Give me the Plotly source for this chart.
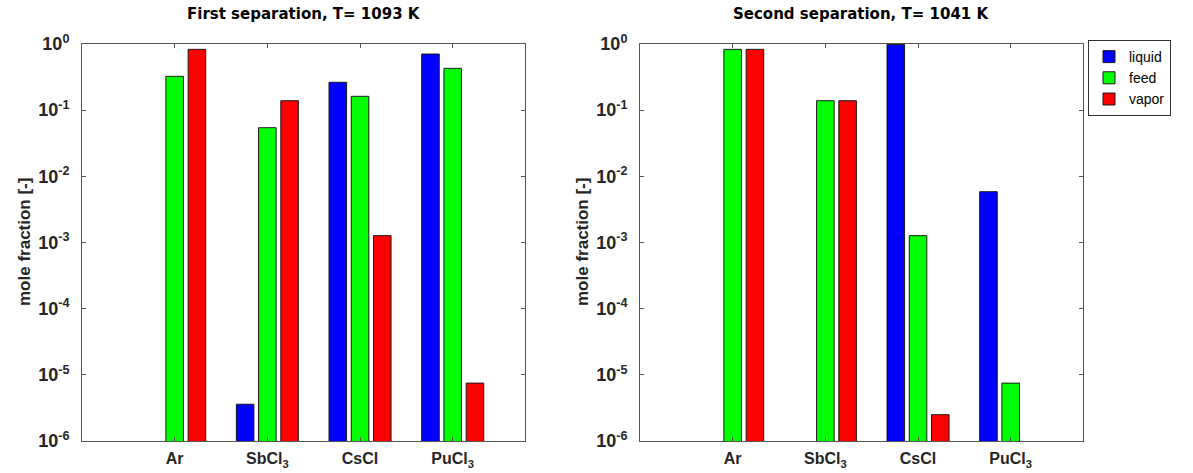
import plotly.graph_objects as go
from plotly.subplots import make_subplots

# Species on the x axis (category positions 1..4)
species = ["Ar", "SbCl<sub>3</sub>", "CsCl", "PuCl<sub>3</sub>"]
xpos = [1, 2, 3, 4]

# Mole fractions, first separation (T = 1093 K); None = no bar (zero)
first_liquid = [None, 3.6e-6, 0.264, 0.706]
first_feed = [0.325, 0.0543, 0.162, 0.429]
first_vapor = [0.83, 0.139, 1.27e-3, 7.5e-6]

# Mole fractions, second separation (T = 1041 K)
second_liquid = [None, None, 0.985, 5.86e-3]
second_feed = [0.83, 0.139, 1.27e-3, 7.5e-6]
second_vapor = [0.83, 0.139, 2.5e-6, None]

titles = ["First separation, T= 1093 K", "Second separation, T= 1041 K"]
series_names = ["liquid", "feed", "vapor"]
colors = ["#0000FF", "#00FF00", "#FF0000"]

ytick_vals = [1e-6, 1e-5, 1e-4, 1e-3, 1e-2, 1e-1, 1e0]
ytick_text = ["<b>10<sup>%d</sup></b>" % e for e in range(-6, 1)]

W, H = 1193, 473
fig = make_subplots(rows=1, cols=2)

panels = [
    (first_liquid, first_feed, first_vapor),
    (second_liquid, second_feed, second_vapor),
]
for col, data in enumerate(panels, start=1):
    for name, vals, color in zip(series_names, data, colors):
        fig.add_trace(
            go.Bar(
                x=xpos, y=vals, name=name,
                marker=dict(color=color, line=dict(color="#1a1a1a", width=1)),
                showlegend=(col == 2),
                legendgroup=name,
            ),
            row=1, col=col,
        )

# plot areas in pixels
x_domains = [(82, 525), (640, 1083)]
y_top, y_bot = 44, 441
axis_line = "#555555"

for i, (x0, x1) in enumerate(x_domains, start=1):
    fig.update_xaxes(
        domain=[x0 / W, x1 / W], range=[0, 4.78],
        tickvals=xpos, ticktext=["<b>%s</b>" % s for s in species],
        ticks="inside", ticklen=4, tickcolor=axis_line,
        showline=True, linecolor=axis_line, linewidth=1, mirror="ticks",
        showgrid=False, zeroline=False, automargin=False,
        tickfont=dict(family="Liberation Sans", size=16, color="#262626"),
        ticklabelstandoff=3,
        row=1, col=i,
    )
    fig.update_yaxes(
        domain=[1 - y_bot / H, 1 - y_top / H], type="log", range=[-6, 0],
        tickvals=ytick_vals, ticktext=ytick_text,
        ticks="inside", ticklen=4, tickcolor=axis_line,
        showline=True, linecolor=axis_line, linewidth=1, mirror="ticks",
        showgrid=False, zeroline=False, automargin=False,
        tickfont=dict(family="Liberation Sans", size=18, color="#262626"),
        ticklabelstandoff=8,
        row=1, col=i,
    )
    # panel title
    fig.add_annotation(
        x=(x0 + x1) / 2 / W, y=1 - 14 / H, xref="paper", yref="paper",
        text="<b>%s</b>" % titles[i - 1], showarrow=False,
        font=dict(family="DejaVu Sans", size=15, color="black"),
        xanchor="center", yanchor="middle",
    )
    # y-axis title
    fig.add_annotation(
        x=(x0 - 58) / W, y=1 - 242 / H, xref="paper", yref="paper",
        text="<b>mole fraction [-]</b>", showarrow=False, textangle=-90,
        font=dict(family="Liberation Sans", size=17, color="#262626"),
        xanchor="center", yanchor="middle",
    )

fig.update_layout(
    width=W, height=H,
    margin=dict(l=0, r=0, t=0, b=0, autoexpand=False),
    paper_bgcolor="white", plot_bgcolor="white",
    barmode="group", bargap=0.28, bargroupgap=0.21,
    legend=dict(
        x=1088 / W, y=1 - 40 / H, xanchor="left", yanchor="top",
        bordercolor="#333333", borderwidth=1, bgcolor="white",
        font=dict(family="Liberation Sans", size=14, color="black"),
        itemwidth=30, tracegroupgap=0,
    ),
)

fig.write_html("out.html")
